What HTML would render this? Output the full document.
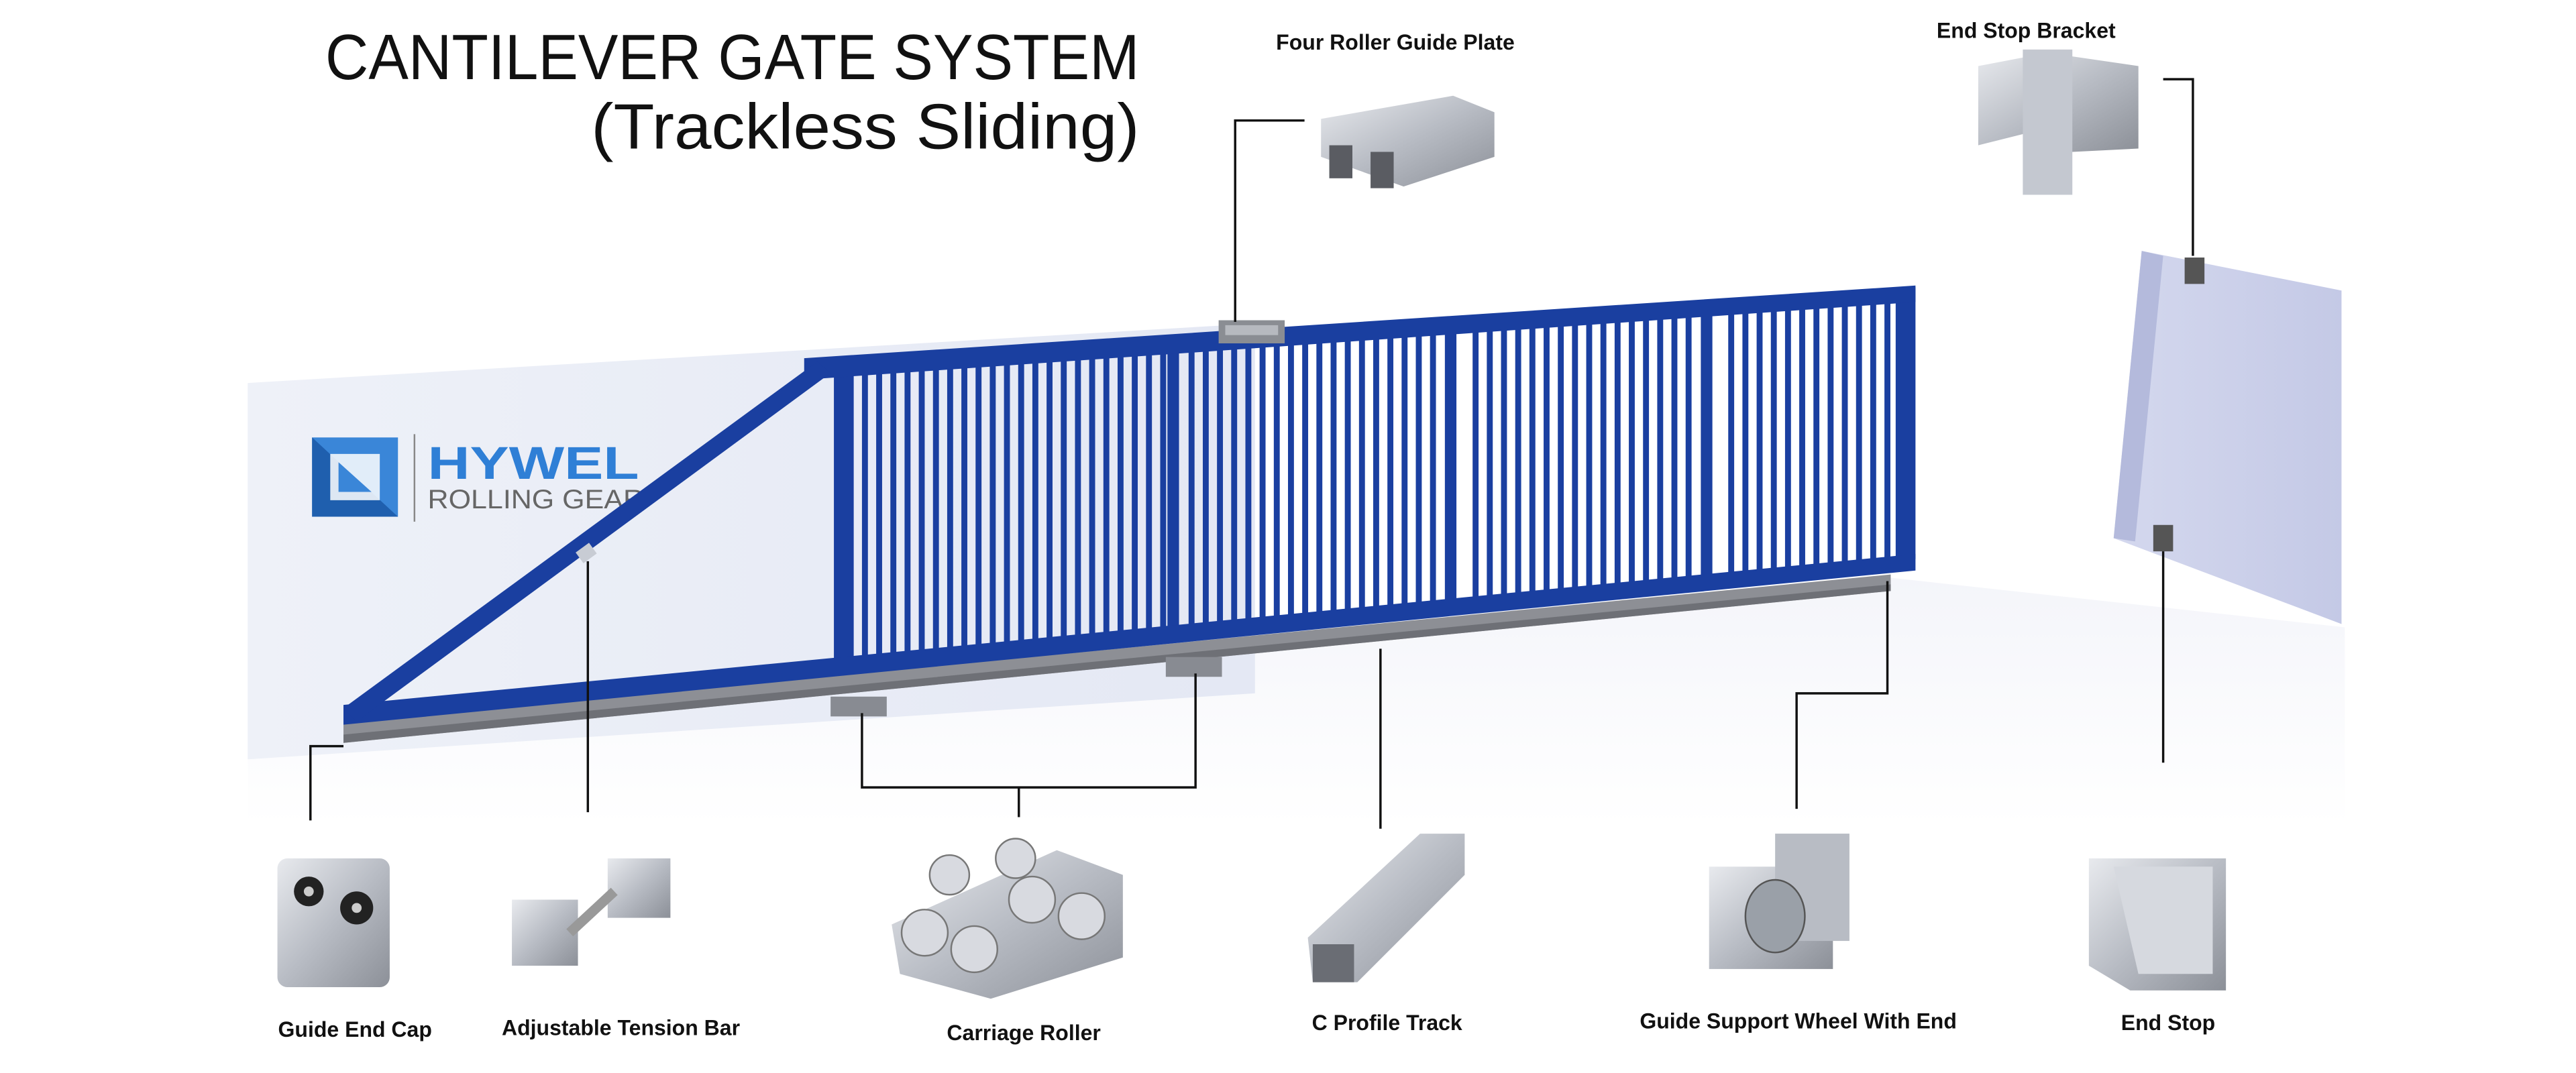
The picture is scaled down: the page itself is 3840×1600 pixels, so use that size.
<!DOCTYPE html>
<html><head><meta charset="utf-8"><style>
html,body{margin:0;padding:0;background:#fff;}
svg{display:block;}
text{font-family:"Liberation Sans",sans-serif;}
.lb{font-weight:bold;font-size:13px;fill:#111;text-anchor:middle;}
.ld{stroke:#111;stroke-width:1.4;fill:none;}
</style></head><body>
<svg id="s" width="3840" height="1600" viewBox="0 0 1560 650" xmlns="http://www.w3.org/2000/svg">
<defs>
<linearGradient id="wall" x1="0" y1="0" x2="1" y2="0"><stop offset="0" stop-color="#eef1f8"/><stop offset="1" stop-color="#e4e8f4"/></linearGradient>
<linearGradient id="rw" x1="0" y1="0" x2="1" y2="0"><stop offset="0" stop-color="#d4d8ee"/><stop offset="1" stop-color="#c4c9e6"/></linearGradient>
<linearGradient id="met" x1="0" y1="0" x2="1" y2="1"><stop offset="0" stop-color="#e8eaee"/><stop offset="0.5" stop-color="#b8bcc4"/><stop offset="1" stop-color="#8c9098"/></linearGradient>
<linearGradient id="flr" x1="0" y1="0" x2="0" y2="1"><stop offset="0" stop-color="#f4f5fa"/><stop offset="1" stop-color="#ffffff"/></linearGradient>
</defs>
<rect width="1560" height="650" fill="#fff"/>
<polygon points="150,460 1145,350 1420,380 1420,500 150,500" fill="url(#flr)"/>
<polygon points="150,232 760,196 760,420 150,460" fill="url(#wall)"/>
<polygon points="1297,152 1418,176 1418,378 1280,326" fill="url(#rw)"/>
<polygon points="1297,152 1310,155 1293,328 1280,326" fill="#b4badc"/>
<rect x="1323" y="156" width="12" height="16" fill="#555"/>
<rect x="1304" y="318" width="12" height="16" fill="#555"/>
<text x="690" y="48" font-size="39" text-anchor="end" fill="#111" textLength="493" lengthAdjust="spacingAndGlyphs">CANTILEVER GATE SYSTEM</text>
<text x="690" y="90" font-size="39" text-anchor="end" fill="#111" textLength="332" lengthAdjust="spacingAndGlyphs">(Trackless Sliding)</text>
<g>
<rect x="189" y="265" width="52" height="48" fill="#3a86d8"/>
<polygon points="189,265 241,313 189,313" fill="#1f5fae"/>
<polygon points="200,275 230,275 230,303 200,303" fill="#fff" opacity="0.85"/>
<polygon points="205,280 225,298 205,298" fill="#3a86d8"/>
<line x1="251" y1="263" x2="251" y2="316" stroke="#888" stroke-width="1"/>
<text x="259" y="290" font-size="28" font-weight="bold" fill="#2f7fd6" textLength="128" lengthAdjust="spacingAndGlyphs">HYWEL</text>
<text x="259" y="308" font-size="16" fill="#666" textLength="131" lengthAdjust="spacingAndGlyphs">ROLLING GEAR</text>
</g>
<g id="gate"></g>
<rect x="738" y="194" width="40" height="14" fill="#8a8d93"/>
<rect x="742" y="197" width="32" height="6" fill="#b6b9bf"/>
<rect x="503" y="422" width="34" height="12" fill="#888b92"/>
<rect x="706" y="398" width="34" height="12" fill="#888b92"/>
<polyline class="ld" points="748,195 748,73 790,73"/>
<polyline class="ld" points="1310,48 1328,48 1328,155"/>
<polyline class="ld" points="208,452 188,452 188,497"/>
<polyline class="ld" points="356,340 356,492"/>
<polyline class="ld" points="522,432 522,477 724,477 724,408"/>
<polyline class="ld" points="617,477 617,495"/>
<polyline class="ld" points="836,393 836,502"/>
<polyline class="ld" points="1143,352 1143,420 1088,420 1088,490"/>
<polyline class="ld" points="1310,334 1310,462"/>
<g><polygon points="800,72 880,58 905,68 905,95 850,113 800,95" fill="url(#met)"/>
<rect x="805" y="88" width="14" height="20" fill="#5a5c62"/><rect x="830" y="92" width="14" height="22" fill="#5a5c62"/></g>
<g><polygon points="1198,40 1240,32 1295,40 1295,90 1255,92 1230,80 1198,88" fill="url(#met)"/>
<rect x="1225" y="30" width="30" height="88" fill="#c4c8d0"/></g>
<g><rect x="168" y="520" width="68" height="78" rx="6" fill="url(#met)"/>
<circle cx="187" cy="540" r="9" fill="#222"/><circle cx="216" cy="550" r="10" fill="#222"/>
<circle cx="187" cy="540" r="3" fill="#ccc"/><circle cx="216" cy="550" r="3" fill="#ccc"/></g>
<g><rect x="310" y="545" width="40" height="40" fill="url(#met)"/><rect x="368" y="520" width="38" height="36" fill="url(#met)"/>
<line x1="345" y1="565" x2="372" y2="540" stroke="#999" stroke-width="6"/></g>
<g><polygon points="540,560 640,515 680,530 680,580 600,605 545,590" fill="url(#met)"/>
<circle cx="560" cy="565" r="14" fill="#d8dae0" stroke="#777"/><circle cx="590" cy="575" r="14" fill="#d8dae0" stroke="#777"/>
<circle cx="625" cy="545" r="14" fill="#d8dae0" stroke="#777"/><circle cx="655" cy="555" r="14" fill="#d8dae0" stroke="#777"/>
<circle cx="615" cy="520" r="12" fill="#d8dae0" stroke="#777"/><circle cx="575" cy="530" r="12" fill="#d8dae0" stroke="#777"/></g>
<g><polygon points="792,568 860,505 887,505 887,530 822,595 795,595" fill="url(#met)"/>
<polygon points="795,572 820,572 820,595 795,595" fill="#6a6d74"/></g>
<g><rect x="1035" y="525" width="75" height="62" fill="url(#met)"/>
<rect x="1075" y="505" width="45" height="65" fill="#b8bcc4"/>
<ellipse cx="1075" cy="555" rx="18" ry="22" fill="#9aa0a8" stroke="#555"/></g>
<g><polygon points="1265,520 1348,520 1348,600 1290,600 1265,585" fill="url(#met)"/>
<polygon points="1280,525 1340,525 1340,590 1295,590" fill="#d6d9df"/></g>
<text class="lb" x="845" y="30">Four Roller Guide Plate</text>
<text class="lb" x="1227" y="23">End Stop Bracket</text>
<text class="lb" x="215" y="628">Guide End Cap</text>
<text class="lb" x="376" y="627">Adjustable Tension Bar</text>
<text class="lb" x="620" y="630">Carriage Roller</text>
<text class="lb" x="840" y="624">C Profile Track</text>
<text class="lb" x="1089" y="623">Guide Support Wheel With End</text>
<text class="lb" x="1313" y="624">End Stop</text>
</svg>
<script>
(function(){
var g=document.getElementById('gate'),h='';
var B='#1a3fa0';
function yt(x){return 220-0.0654*(x-487);}
function yb(x){return 428-0.096*(x-208);}
h+='<polygon points="208,438 1145,348 1145,358 208,450" fill="#8d8f95"/>';
h+='<polygon points="208,445 1145,354 1145,358 208,450" fill="#6e7076"/>';
var seps=[710,878,1033];
for(var x=522;x<1146;x+=8.6){
 var skip=false;for(var i=0;i<3;i++)if(Math.abs(x-seps[i])<6)skip=true;
 if(skip)continue;
 h+='<rect x="'+x.toFixed(1)+'" y="'+yt(x).toFixed(1)+'" width="3.6" height="'+(yb(x)-yt(x)).toFixed(1)+'" fill="'+B+'"/>';
}
for(var i=0;i<3;i++){var x=seps[i];h+='<rect x="'+(x-3)+'" y="'+yt(x).toFixed(1)+'" width="7" height="'+(yb(x)-yt(x)).toFixed(1)+'" fill="'+B+'"/>';}
h+='<polygon points="505,'+yt(505)+' 517,'+yt(517)+' 517,'+yb(517)+' 505,'+yb(505)+'" fill="'+B+'"/>';
h+='<polygon points="1148,'+(yt(1148)-2)+' 1160,'+(yt(1160)-2)+' 1160,'+(yb(1160)+2)+' 1148,'+(yb(1148)+2)+'" fill="'+B+'"/>';
h+='<polygon points="487,'+(yt(487)-3)+' 1160,'+(yt(1160)-3)+' 1160,'+(yt(1160)+7)+' 487,'+(yt(487)+10)+'" fill="'+B+'"/>';
h+='<polygon points="208,'+(yb(208)-1)+' 1160,'+(yb(1160)-1)+' 1160,'+(yb(1160)+9)+' 208,'+(yb(208)+11)+'" fill="'+B+'"/>';
h+='<polygon points="208,429 495,219 503,226 216,437" fill="'+B+'"/>';
h+='<rect x="350" y="331" width="10" height="8" fill="#c8ccd4" transform="rotate(-36 355 335)"/>';
g.innerHTML=h;
})();
</script>
</body></html>
